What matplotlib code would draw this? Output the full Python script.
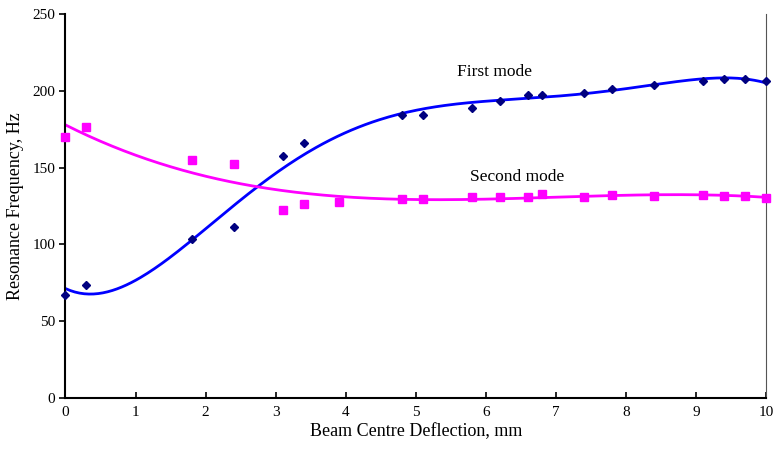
import numpy as np
import matplotlib.pyplot as plt

plt.rcParams['font.family'] = ['Liberation Serif', 'DejaVu Serif']

# first mode (diamonds)
x1 = [0, 0.3, 1.8, 2.4, 3.1, 3.4, 4.8, 5.1, 5.8, 6.2, 6.6, 6.8, 7.4, 7.8, 8.4, 9.1, 9.4, 9.7, 10]
f1 = [67.3, 73.6, 103.7, 111.1, 157.6, 166.2, 184.0, 184.0, 188.6, 193.6, 197.5, 197.5, 198.8, 201.2, 203.8, 206.6, 207.5, 207.5, 206.2]

# second mode (squares)
x2 = [0, 0.3, 1.8, 2.4, 3.1, 3.4, 3.9, 4.8, 5.1, 5.8, 6.2, 6.6, 6.8, 7.4, 7.8, 8.4, 9.1, 9.4, 9.7, 10]
f2 = [170.0, 176.2, 155.0, 152.3, 122.4, 126.1, 127.6, 129.8, 129.8, 131.1, 131.1, 131.1, 132.6, 131.1, 132.4, 131.3, 132.4, 131.3, 131.3, 130.4]

# polynomial trend lines, like the spreadsheet ones
xs = np.linspace(0, 10, 300)
p1 = np.polyfit(x1, f1, 5)
p2 = np.polyfit(x2, f2, 3)

fig = plt.figure(figsize=(7.74, 4.5), dpi=100)
ax = fig.add_axes([0.0846, 0.1156, 0.9050, 0.8533])

ax.plot(xs, np.polyval(p1, xs), color='#0000FF', lw=2, zorder=2)
ax.plot(xs, np.polyval(p2, xs), color='#FF00FF', lw=2, zorder=2)
ax.plot(x1, f1, 'D', color='#000080', ms=4.5, ls='none', zorder=3, clip_on=False)
ax.plot(x2, f2, 's', color='#FF00FF', ms=6, ls='none', zorder=3, clip_on=False)

ax.text(6.13, 212, 'First mode', ha='center', va='center', fontsize=12.5)
ax.text(6.45, 144, 'Second mode', ha='center', va='center', fontsize=12.5)

ax.set_xlim(0, 10)
ax.set_ylim(0, 250)
ax.set_xticks(range(0, 11))
ax.set_yticks(range(0, 251, 50))
ax.tick_params(axis='x', direction='in', length=4, width=1.2, labelsize=11, pad=6)
ax.tick_params(axis='y', direction='out', length=4, width=1.2, labelsize=11)

ax.spines['left'].set_linewidth(1.5)
ax.spines['bottom'].set_linewidth(1.5)
ax.spines['top'].set_visible(False)
ax.spines['right'].set_color('#555555')
ax.spines['right'].set_linewidth(0.8)

ax.set_xlabel('Beam Centre Deflection, mm', fontsize=13, labelpad=3)
ax.set_ylabel('Resonance Frequency, Hz', fontsize=13, labelpad=6)

fig.savefig('out.png', dpi=100)
